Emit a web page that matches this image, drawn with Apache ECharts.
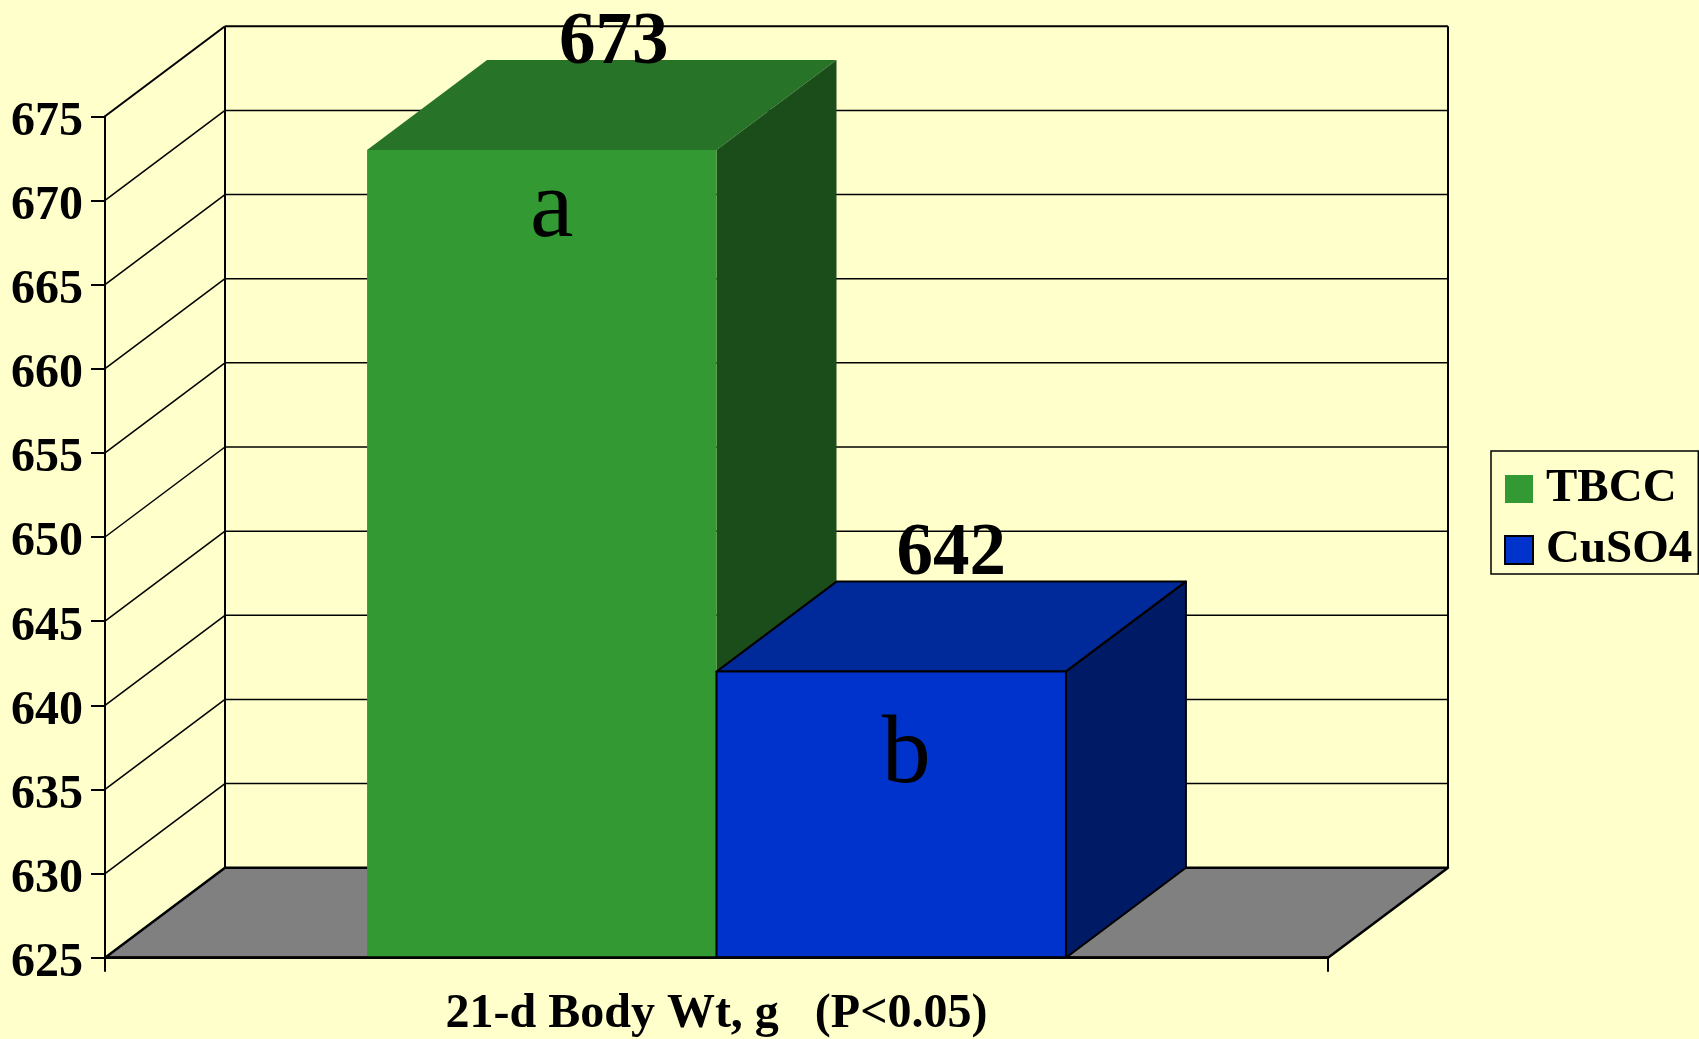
<!DOCTYPE html>
<html>
<head>
<meta charset="utf-8">
<script src="https://cdn.jsdelivr.net/npm/echarts@6/dist/echarts.min.js"></script>
<style>
html,body{margin:0;padding:0;background:#FFFFCC;}
#chart{width:1699px;height:1039px;}
</style>
</head>
<body>
<div id="chart"></div>
<script>
// ---- data ----
const categories = ['21-d Body Wt, g   (P<0.05)'];
const seriesNames = ['TBCC', 'CuSO4'];
const tbccValues = [673];
const cuso4Values = [642];
const sigLetters = ['a', 'b'];
const yTickLabels = [625, 630, 635, 640, 645, 650, 655, 660, 665, 670, 675];

// ---- layout / style constants ----
const yMin = 625, yMax = 675, yStep = 5;
const DX = 120, DY = -90;          // 3D depth offset
const GAP = 1.5;                   // gap width relative to bar width
const FONT = '"Liberation Serif","Times New Roman",serif';

const chart = echarts.init(document.getElementById('chart'), null, {renderer: 'canvas'});

function wallsRender(params, api) {
  const cs = params.coordSys;
  const L = cs.x, R = cs.x + cs.width;
  const v = api.value(1);
  const y = api.coord([0, v])[1];
  const children = [];
  if (v === yMin) {
    const yTop = api.coord([0, yMax])[1];
    children.push({type: 'polygon', z2: 1,
      shape: {points: [[L, y], [L + DX, y + DY], [R + DX, y + DY], [R, y]]},
      style: {fill: '#808080', stroke: '#000', lineWidth: 2.5, lineJoin: 'round'}});
    children.push({type: 'line', shape: {x1: L + DX, y1: y + DY, x2: L + DX, y2: yTop + DY},
      style: {stroke: '#000', lineWidth: 2}});
    children.push({type: 'line', shape: {x1: R + DX, y1: y + DY, x2: R + DX, y2: yTop + DY},
      style: {stroke: '#000', lineWidth: 2}});
  } else {
    children.push({type: 'line', shape: {x1: L, y1: y, x2: L + DX, y2: y + DY},
      style: {stroke: '#000', lineWidth: v === yMax ? 2 : 1.5}});
    children.push({type: 'line', shape: {x1: L + DX, y1: y + DY, x2: R + DX, y2: y + DY},
      style: {stroke: '#000', lineWidth: v === yMax ? 2 : 1.5}});
  }
  return {type: 'group', children: children};
}

function makeBarRender(k, cols, stroke, valOff, letOff) {
  return function (params, api) {
    const xv = api.value(0), v = api.value(1);
    const c = api.coord([xv, v]);
    const base = api.coord([xv, yMin])[1];
    const band = api.size([1, 0])[0];
    const n = seriesNames.length;
    const w = band / (n + GAP);
    const x = c[0] - n * w / 2 + k * w;
    const yT = c[1];
    const st = stroke ? {stroke: '#000', lineWidth: 2, lineJoin: 'round'} : {};
    return {type: 'group', children: [
      {type: 'polygon', shape: {points: [[x, yT], [x + DX, yT + DY], [x + w + DX, yT + DY], [x + w, yT]]},
        style: Object.assign({fill: cols[1]}, st)},
      {type: 'polygon', shape: {points: [[x + w, yT], [x + w + DX, yT + DY], [x + w + DX, base + DY], [x + w, base]]},
        style: Object.assign({fill: cols[2]}, st)},
      {type: 'rect', shape: {x: x, y: yT, width: w, height: base - yT},
        style: Object.assign({fill: cols[0]}, st)},
      {type: 'text', z2: 10, style: {text: String(v), x: x + w / 2 + valOff[0], y: yT + valOff[1],
        align: 'center', verticalAlign: 'middle', fill: '#000',
        font: 'bold 73px ' + FONT}},
      {type: 'text', z2: 10, style: {text: sigLetters[k], x: x + w / 2 + letOff[0], y: yT + letOff[1],
        align: 'center', verticalAlign: 'middle', fill: '#000',
        font: 'normal 98px ' + FONT}}
    ]};
  };
}

const option = {
  backgroundColor: '#FFFFCC',
  animation: false,
  grid: {left: 105, right: 371, top: 116.3, bottom: 81.3, outerBoundsMode: 'none', containLabel: false},
  legend: {
    orient: 'vertical', left: 1491, top: 451,
    padding: [14, 6, 0, 13],
    itemWidth: 28, itemHeight: 28, itemGap: 13,
    icon: 'rect',
    borderColor: '#000', borderWidth: 1.5,
    data: seriesNames,
    textStyle: {fontFamily: FONT, fontWeight: 'bold', fontSize: 47, color: '#000', lineHeight: 48, padding: [0, 0, 0, 8]}
  },
  xAxis: {
    type: 'category', data: categories, z: 10,
    axisLine: {show: true, lineStyle: {color: '#000', width: 2.5}},
    axisTick: {show: true, length: 14, lineStyle: {color: '#000', width: 2}},
    axisLabel: {margin: 33, fontFamily: FONT, fontWeight: 'bold', fontSize: 48, color: '#000'},
    splitLine: {show: false}
  },
  yAxis: {
    type: 'value', min: yMin, max: yMax, interval: yStep, z: 10,
    axisLine: {show: true, lineStyle: {color: '#000', width: 2}},
    axisTick: {show: true, length: 14, lineStyle: {color: '#000', width: 2}},
    axisLabel: {margin: 22, verticalAlign: 'top', lineHeight: 12, fontFamily: FONT, fontWeight: 'bold', fontSize: 48, color: '#000'},
    splitLine: {show: false}
  },
  series: [
    {
      name: 'walls', type: 'custom', z: 1, clip: false, silent: true,
      renderItem: wallsRender,
      encode: {x: 0, y: 1},
      data: yTickLabels.map(function (t) { return [0, t]; })
    },
    {
      name: seriesNames[0], type: 'custom', z: 2, clip: false,
      itemStyle: {color: '#339933'},
      renderItem: makeBarRender(0, ['#339933', '#277327', '#1B4D1B'], false, [72, -106], [10, 60]),
      encode: {x: 0, y: 1},
      data: tbccValues.map(function (v, i) { return [i, v]; })
    },
    {
      name: seriesNames[1], type: 'custom', z: 3, clip: false,
      itemStyle: {color: '#0033CC', borderColor: '#000', borderWidth: 2},
      renderItem: makeBarRender(1, ['#0033CC', '#002999', '#001A66'], true, [60, -116], [15, 85]),
      encode: {x: 0, y: 1},
      data: cuso4Values.map(function (v, i) { return [i, v]; })
    }
  ]
};
chart.setOption(option);
</script>
</body>
</html>
